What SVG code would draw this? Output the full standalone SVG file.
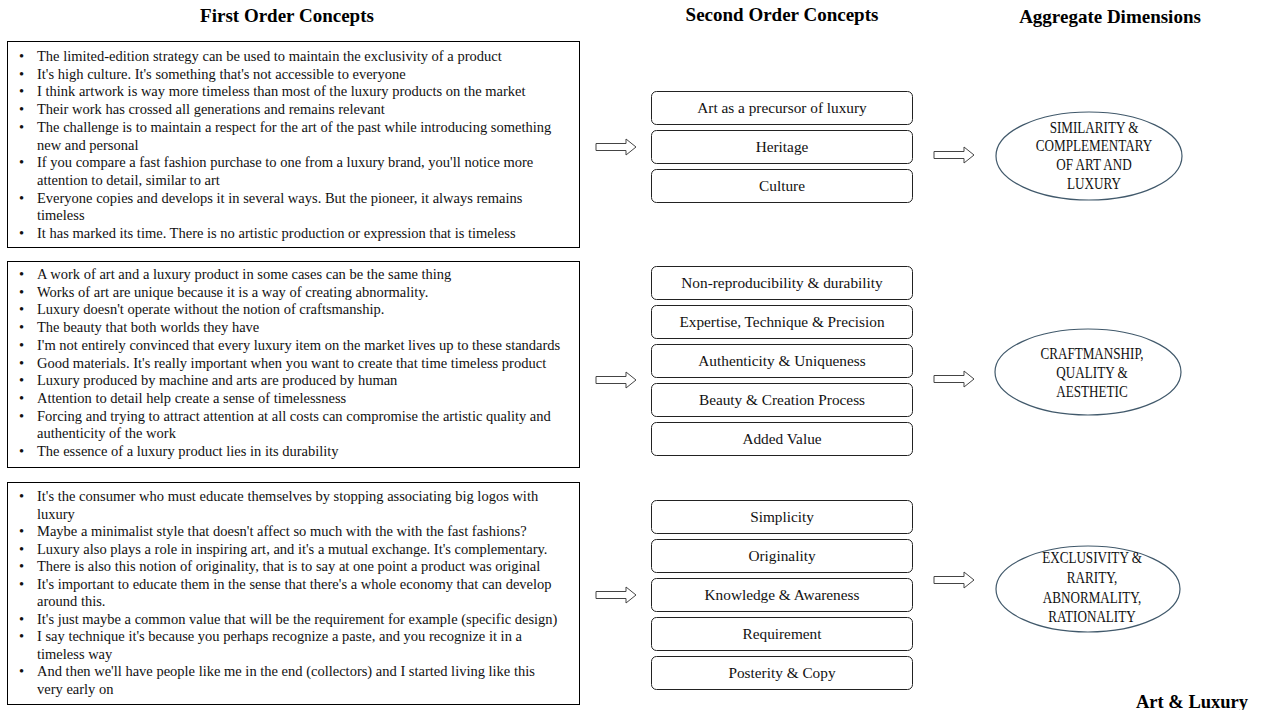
<svg xmlns="http://www.w3.org/2000/svg" width="1262" height="710" viewBox="0 0 1262 710">
<defs>
<style>
.hdr{font-family:"Liberation Serif","Times New Roman",serif;font-weight:bold;font-size:19px;fill:#000;text-anchor:middle}
.box{fill:#fff;stroke:#000;stroke-width:1}
.t{font-family:"Liberation Serif","Times New Roman",serif;font-size:14.5px;fill:#111}
.c{font-family:"Liberation Serif","Times New Roman",serif;font-size:15.3px;fill:#111;text-anchor:middle}
.rb{fill:#fff;stroke:#222;stroke-width:1}
.el{fill:#fff;stroke:#41596b;stroke-width:1.2}
.e{font-family:"Liberation Serif","Times New Roman",serif;font-size:16px;fill:#111;text-anchor:middle}
.arr{fill:#fff;stroke:#444;stroke-width:1}
</style>
<path id="blk" d="M0,-3.5 H30 V-8 L40,0 L30,8 V3.5 H0 Z"/>
</defs>

<g id="headers">
<text class="hdr" x="287" y="22">First Order Concepts</text>
<text class="hdr" x="782" y="21">Second Order Concepts</text>
<text class="hdr" x="1110" y="23">Aggregate Dimensions</text>
<text class="hdr" x="1192" y="708" style="font-size:18.5px">Art &amp; Luxury</text>
</g>

<g id="first1">
<rect class="box" x="7.5" y="41.5" width="572" height="206"/>
<g class="t">
<text x="19" y="61">•</text><text x="37" y="61">The limited-edition  strategy can be used to maintain the exclusivity of a product</text>
<text x="19" y="78.7">•</text><text x="37" y="78.7">It's high culture. It's something that's not accessible to everyone</text>
<text x="19" y="96.4">•</text><text x="37" y="96.4">I think artwork is way more timeless than most of the luxury products on the market</text>
<text x="19" y="114.1">•</text><text x="37" y="114.1">Their work has crossed all generations and remains relevant</text>
<text x="19" y="131.8">•</text><text x="37" y="131.8">The challenge is to maintain a respect for the art of the past while introducing something</text>
<text x="37" y="149.5">new and personal</text>
<text x="19" y="167.2">•</text><text x="37" y="167.2">If you compare a fast fashion purchase to one from a luxury brand, you'll notice more</text>
<text x="37" y="184.9">attention to detail, similar to art</text>
<text x="19" y="202.6">•</text><text x="37" y="202.6">Everyone copies and develops it in several ways. But the pioneer, it always remains</text>
<text x="37" y="220.3">timeless</text>
<text x="19" y="238">•</text><text x="37" y="238">It has marked its time. There is no artistic production or expression that is timeless</text>
</g>
</g>

<g id="first2">
<rect class="box" x="7.5" y="261.5" width="572" height="206"/>
<g class="t">
<text x="19" y="279">•</text><text x="37" y="279">A work of art and a luxury product in some cases can be the same thing</text>
<text x="19" y="296.7">•</text><text x="37" y="296.7">Works of art are unique because it is a way of creating abnormality.</text>
<text x="19" y="314.4">•</text><text x="37" y="314.4">Luxury doesn't operate without the notion of craftsmanship.</text>
<text x="19" y="332.1">•</text><text x="37" y="332.1">The beauty that both worlds they have</text>
<text x="19" y="349.8">•</text><text x="37" y="349.8">I'm not entirely convinced that every luxury item on the market lives up to these standards</text>
<text x="19" y="367.5">•</text><text x="37" y="367.5">Good materials. It's really important when you want to create that time timeless product</text>
<text x="19" y="385.2">•</text><text x="37" y="385.2">Luxury produced by machine and arts are produced by human</text>
<text x="19" y="402.9">•</text><text x="37" y="402.9">Attention to detail help create a sense of timelessness</text>
<text x="19" y="420.6">•</text><text x="37" y="420.6">Forcing and trying to attract attention at all costs can compromise the artistic quality and</text>
<text x="37" y="438.3">authenticity of the work</text>
<text x="19" y="456">•</text><text x="37" y="456">The essence of a luxury product lies in its durability</text>
</g>
</g>

<g id="first3">
<rect class="box" x="7.5" y="482.5" width="572" height="222"/>
<g class="t">
<text x="19" y="501">•</text><text x="37" y="501">It's the consumer who must educate themselves by stopping associating big logos with</text>
<text x="37" y="518.5">luxury</text>
<text x="19" y="536">•</text><text x="37" y="536">Maybe a minimalist style that doesn't affect so much with the with the fast fashions?</text>
<text x="19" y="553.5">•</text><text x="37" y="553.5">Luxury also plays a role in inspiring art, and it's a mutual exchange. It's complementary.</text>
<text x="19" y="571">•</text><text x="37" y="571">There is also this notion of originality,  that is to say at one point a product was original</text>
<text x="19" y="588.5">•</text><text x="37" y="588.5">It's important to educate them in the sense that there's a whole economy that can develop</text>
<text x="37" y="606">around this.</text>
<text x="19" y="623.5">•</text><text x="37" y="623.5">It's just maybe a common value that will be the requirement for example (specific design)</text>
<text x="19" y="641">•</text><text x="37" y="641">I say technique it's because you perhaps recognize a paste, and you recognize it in a</text>
<text x="37" y="658.5">timeless way</text>
<text x="19" y="676">•</text><text x="37" y="676">And then we'll have people like me in the end (collectors) and I started living like this</text>
<text x="37" y="693.5">very early on</text>
</g>
</g>

<g id="second1">
<rect class="rb" x="651.5" y="91.5" width="261" height="33" rx="5"/><text class="c" x="782" y="113">Art as a precursor of luxury</text>
<rect class="rb" x="651.5" y="130.5" width="261" height="33" rx="5"/><text class="c" x="782" y="152">Heritage</text>
<rect class="rb" x="651.5" y="169.5" width="261" height="33" rx="5"/><text class="c" x="782" y="191">Culture</text>
</g>

<g id="second2">
<rect class="rb" x="651.5" y="266.5" width="261" height="33" rx="5"/><text class="c" x="782" y="288">Non-reproducibility &amp; durability</text>
<rect class="rb" x="651.5" y="305.5" width="261" height="33" rx="5"/><text class="c" x="782" y="327">Expertise, Technique &amp; Precision</text>
<rect class="rb" x="651.5" y="344.5" width="261" height="33" rx="5"/><text class="c" x="782" y="366">Authenticity &amp; Uniqueness</text>
<rect class="rb" x="651.5" y="383.5" width="261" height="33" rx="5"/><text class="c" x="782" y="405">Beauty &amp; Creation Process</text>
<rect class="rb" x="651.5" y="422.5" width="261" height="33" rx="5"/><text class="c" x="782" y="444">Added Value</text>
</g>

<g id="second3">
<rect class="rb" x="651.5" y="500.5" width="261" height="33" rx="5"/><text class="c" x="782" y="522">Simplicity</text>
<rect class="rb" x="651.5" y="539.5" width="261" height="33" rx="5"/><text class="c" x="782" y="561">Originality</text>
<rect class="rb" x="651.5" y="578.5" width="261" height="33" rx="5"/><text class="c" x="782" y="600">Knowledge &amp; Awareness</text>
<rect class="rb" x="651.5" y="617.5" width="261" height="33" rx="5"/><text class="c" x="782" y="639">Requirement</text>
<rect class="rb" x="651.5" y="656.5" width="261" height="33" rx="5"/><text class="c" x="782" y="678">Posterity &amp; Copy</text>
</g>

<g id="agg1">
<ellipse class="el" cx="1089" cy="156" rx="93" ry="44"/>
<g transform="translate(1094,0) scale(0.82,1)">
<text class="e" x="0" y="133">SIMILARITY  &amp;</text>
<text class="e" x="0" y="151.5">COMPLEMENTARY</text>
<text class="e" x="0" y="170">OF ART AND</text>
<text class="e" x="0" y="189">LUXURY</text>
</g>
</g>

<g id="agg2">
<ellipse class="el" cx="1088" cy="372" rx="93" ry="43"/>
<g transform="translate(1092,0) scale(0.82,1)">
<text class="e" x="0" y="359">CRAFTMANSHIP,</text>
<text class="e" x="0" y="378">QUALITY &amp;</text>
<text class="e" x="0" y="397">AESTHETIC</text>
</g>
</g>

<g id="agg3">
<ellipse class="el" cx="1088" cy="589" rx="92" ry="43"/>
<g transform="translate(1092,0) scale(0.82,1)">
<text class="e" x="0" y="563">EXCLUSIVITY  &amp;</text>
<text class="e" x="0" y="583">RARITY,</text>
<text class="e" x="0" y="603">ABNORMALITY,</text>
<text class="e" x="0" y="622">RATIONALITY</text>
</g>
</g>

<g id="connectors">
<use href="#blk" class="arr" x="596" y="147"/>
<use href="#blk" class="arr" x="934" y="155"/>
<use href="#blk" class="arr" x="596" y="380"/>
<use href="#blk" class="arr" x="934" y="379"/>
<use href="#blk" class="arr" x="596" y="595"/>
<use href="#blk" class="arr" x="934" y="580"/>
</g>
</svg>
